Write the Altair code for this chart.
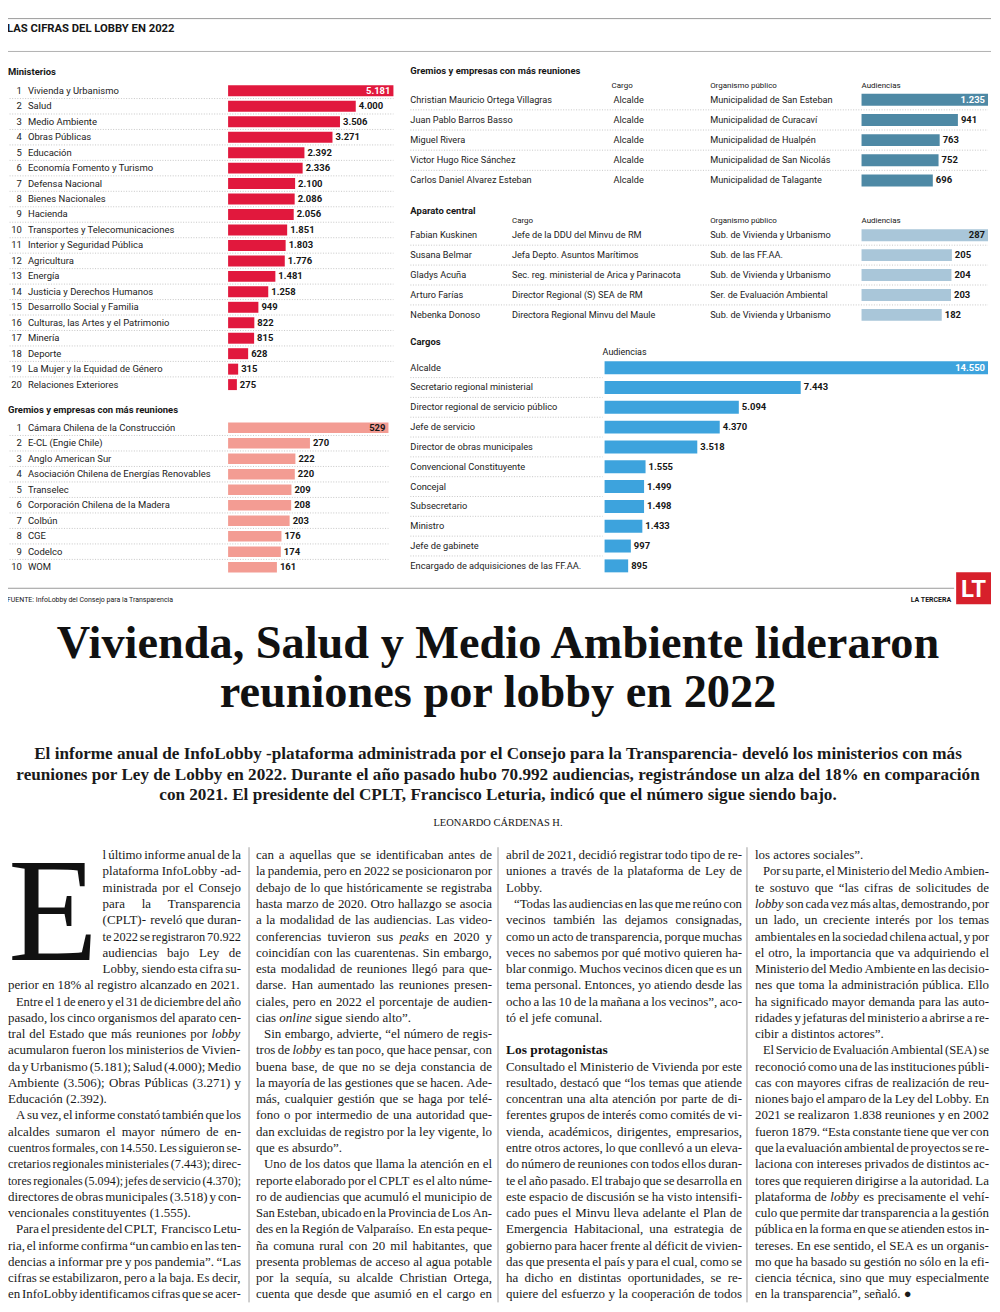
import altair as alt
import pandas as pd

# ====================== DATA ======================
ministerios = ["Vivienda y Urbanismo", "Salud", "Medio Ambiente", "Obras Públicas", "Educación",
               "Economía Fomento y Turismo", "Defensa Nacional", "Bienes Nacionales", "Hacienda",
               "Transportes y Telecomunicaciones", "Interior y Seguridad Pública", "Agricultura",
               "Energía", "Justicia y Derechos Humanos", "Desarrollo Social y Familia",
               "Culturas, las Artes y el Patrimonio", "Minería", "Deporte",
               "La Mujer y la Equidad de Género", "Relaciones Exteriores"]
ministerios_aud = [5181, 4000, 3506, 3271, 2392, 2336, 2100, 2086, 2056, 1851,
                   1803, 1776, 1481, 1258, 949, 822, 815, 628, 315, 275]

gremios = ["Cámara Chilena de la Construcción", "E-CL (Engie Chile)", "Anglo American Sur",
           "Asociación Chilena de Energías Renovables", "Transelec",
           "Corporación Chilena de la Madera", "Colbún", "CGE", "Codelco", "WOM"]
gremios_aud = [529, 270, 222, 220, 209, 208, 203, 176, 174, 161]

gestores = ["Christian Mauricio Ortega Villagras", "Juan Pablo Barros Basso", "Miguel Rivera",
            "Victor Hugo Rice Sánchez", "Carlos Daniel Alvarez Esteban"]
gestores_cargo = ["Alcalde", "Alcalde", "Alcalde", "Alcalde", "Alcalde"]
gestores_org = ["Municipalidad de San Esteban", "Municipalidad de Curacaví",
                "Municipalidad de Hualpén", "Municipalidad de San Nicolás",
                "Municipalidad de Talagante"]
gestores_aud = [1235, 941, 763, 752, 696]

central = ["Fabian Kuskinen", "Susana Belmar", "Gladys Acuña", "Arturo Farías", "Nebenka Donoso"]
central_cargo = ["Jefe de la DDU del Minvu de RM", "Jefa Depto. Asuntos Marítimos",
                 "Sec. reg. ministerial de Arica y Parinacota", "Director Regional (S) SEA de RM",
                 "Directora Regional Minvu del Maule"]
central_org = ["Sub. de Vivienda y Urbanismo", "Sub. de las FF.AA.", "Sub. de Vivienda y Urbanismo",
               "Ser. de Evaluación Ambiental", "Sub. de Vivienda y Urbanismo"]
central_aud = [287, 205, 204, 203, 182]

cargos = ["Alcalde", "Secretario regional ministerial", "Director regional de servicio público",
          "Jefe de servicio", "Director de obras municipales", "Convencional Constituyente",
          "Concejal", "Subsecretario", "Ministro", "Jefe de gabinete",
          "Encargado de adquisiciones de las FF.AA."]
cargos_aud = [14550, 7443, 5094, 4370, 3518, 1555, 1499, 1498, 1433, 997, 895]

titulo = "LAS CIFRAS DEL LOBBY EN 2022"
secciones = ["Ministerios", "Gremios y empresas con más reuniones", "Aparato central", "Cargos"]
encabezados = ["Cargo", "Organismo público", "Audiencias"]
fuente = "FUENTE: InfoLobby del Consejo para la Transparencia"
medio = "LA TERCERA"
logo = "LT"

titular = ["Vivienda, Salud y Medio Ambiente lideraron", "reuniones por lobby en 2022"]
bajada = ["El informe anual de InfoLobby -plataforma administrada por el Consejo para la Transparencia- develó los ministerios con más",
          "reuniones por Ley de Lobby en 2022. Durante el año pasado hubo 70.992 audiencias, registrándose un alza del 18% en comparación",
          "con 2021. El presidente del CPLT, Francisco Leturia, indicó que el número sigue siendo bajo."]
firma = "LEONARDO CÁRDENAS H."
capitular = "E"
subtitulo = "Los protagonistas"

# ">" = paragraph start (indent), "|" = paragraph end, _x_ = italic
columna1 = [
    "l último informe anual de la",
    "plataforma InfoLobby -ad-",
    "ministrada por el Consejo",
    "para la Transparencia",
    "(CPLT)- reveló que duran-",
    "te 2022 se registraron 70.922",
    "audiencias bajo Ley de",
    "Lobby, siendo esta cifra su-",
    "perior en 18% al registro alcanzado en 2021.|",
    ">Entre el 1 de enero y el 31 de diciembre del año",
    "pasado, los cinco organismos del aparato cen-",
    "tral del Estado que más reuniones por _lobby_",
    "acumularon fueron los ministerios de Vivien-",
    "da y Urbanismo (5.181); Salud (4.000); Medio",
    "Ambiente (3.506); Obras Públicas (3.271) y",
    "Educación (2.392).|",
    ">A su vez, el informe constató también que los",
    "alcaldes sumaron el mayor número de en-",
    "cuentros formales, con 14.550. Les siguieron se-",
    "cretarios regionales ministeriales (7.443); direc-",
    "tores regionales (5.094); jefes de servicio (4.370);",
    "directores de obras municipales (3.518) y con-",
    "vencionales constituyentes (1.555).|",
    ">Para el presidente del CPLT, Francisco Letu-",
    "ria, el informe confirma “un cambio en las ten-",
    "dencias a informar pre y pos pandemia”. “Las",
    "cifras se estabilizaron, pero a la baja. Es decir,",
    "en InfoLobby identificamos cifras que se acer-",
]
columna2 = [
    "can a aquellas que se identificaban antes de",
    "la pandemia, pero en 2022 se posicionaron por",
    "debajo de lo que históricamente se registraba",
    "hasta marzo de 2020. Otro hallazgo se asocia",
    "a la modalidad de las audiencias. Las video-",
    "conferencias tuvieron sus _peaks_ en 2020 y",
    "coincidían con las cuarentenas. Sin embargo,",
    "esta modalidad de reuniones llegó para que-",
    "darse. Han aumentado las reuniones presen-",
    "ciales, pero en 2022 el porcentaje de audien-",
    "cias _online_ sigue siendo alto”.|",
    ">Sin embargo, advierte, “el número de regis-",
    "tros de _lobby_ es tan poco, que hace pensar, con",
    "buena base, de que no se deja constancia de",
    "la mayoría de las gestiones que se hacen. Ade-",
    "más, cualquier gestión que se haga por telé-",
    "fono o por intermedio de una autoridad que-",
    "dan excluidas de registro por la ley vigente, lo",
    "que es absurdo”.|",
    ">Uno de los datos que llama la atención en el",
    "reporte elaborado por el CPLT es el alto núme-",
    "ro de audiencias que acumuló el municipio de",
    "San Esteban, ubicado en la Provincia de Los An-",
    "des en la Región de Valparaíso. En esta peque-",
    "ña comuna rural con 20 mil habitantes, que",
    "presenta problemas de acceso al agua potable",
    "por la sequía, su alcalde Christian Ortega,",
    "cuenta que desde que asumió en el cargo en",
]
columna3 = [
    "abril de 2021, decidió registrar todo tipo de re-",
    "uniones a través de la plataforma de Ley de",
    "Lobby.|",
    ">“Todas las audiencias en las que me reúno con",
    "vecinos también las dejamos consignadas,",
    "como un acto de transparencia, porque muchas",
    "veces no sabemos por qué motivo quieren ha-",
    "blar conmigo. Muchos vecinos dicen que es un",
    "tema personal. Entonces, yo atiendo desde las",
    "ocho a las 10 de la mañana a los vecinos”, aco-",
    "tó el jefe comunal.|",
    "",
    "",
    "Consultado el Ministerio de Vivienda por este",
    "resultado, destacó que “los temas que atiende",
    "concentran una alta atención por parte de di-",
    "ferentes grupos de interés como comités de vi-",
    "vienda, académicos, dirigentes, empresarios,",
    "entre otros actores, lo que conllevó a un eleva-",
    "do número de reuniones con todos ellos duran-",
    "te el año pasado. El trabajo que se desarrolla en",
    "este espacio de discusión se ha visto intensifi-",
    "cado pues el Minvu lleva adelante el Plan de",
    "Emergencia Habitacional, una estrategia de",
    "gobierno para hacer frente al déficit de vivien-",
    "das que presenta el país y para el cual, como se",
    "ha dicho en distintas oportunidades, se re-",
    "quiere del esfuerzo y la cooperación de todos",
]
columna4 = [
    "los actores sociales”.|",
    ">Por su parte, el Ministerio del Medio Ambien-",
    "te sostuvo que “las cifras de solicitudes de",
    "_lobby_ son cada vez más altas, demostrando, por",
    "un lado, un creciente interés por los temas",
    "ambientales en la sociedad chilena actual, y por",
    "el otro, la importancia que va adquiriendo el",
    "Ministerio del Medio Ambiente en las decisio-",
    "nes que toma la administración pública. Ello",
    "ha significado mayor demanda para las auto-",
    "ridades y jefaturas del ministerio a abrirse a re-",
    "cibir a distintos actores”.|",
    ">El Servicio de Evaluación Ambiental (SEA) se",
    "reconoció como una de las instituciones públi-",
    "cas con mayores cifras de realización de reu-",
    "niones bajo el amparo de la Ley del Lobby. En",
    "2021 se realizaron 1.838 reuniones y en 2002",
    "fueron 1879. “Esta constante tiene que ver con",
    "que la evaluación ambiental de proyectos se re-",
    "laciona con intereses privados de distintos ac-",
    "tores que requieren dirigirse a la autoridad. La",
    "plataforma de _lobby_ es precisamente el vehí-",
    "culo que permite dar transparencia a la gestión",
    "pública en la forma en que se atienden estos in-",
    "tereses. En ese sentido, el SEA es un organis-",
    "mo que ha basado su gestión no sólo en la efi-",
    "ciencia técnica, sino que muy especialmente",
    "en la transparencia”, señaló. ●|",
]

# ====================== STYLE ======================
SANS = "Roboto, 'Liberation Sans', Arial, sans-serif"
SERIF = "'Liberation Serif', 'Times New Roman', Times, serif"
INK = "#161616"
GREY = "#8a8a8a"
C_MIN = "#E1183D"
C_GRE = "#F39C93"
C_GES = "#4E89A5"
C_CEN = "#A9C6D9"
C_CAR = "#3DA3DD"
C_LOGO = "#D7202B"


def px(x):
    return x - 8


def py(y):
    return y - 8


def fmt(v):
    return f"{v:,}".replace(",", ".")


def widths(groups):
    d = {}
    for chars, w in groups:
        for c in chars:
            d[c] = w
    return d


# Times-compatible metrics (Liberation Serif)
TR = widths([(" .,", 250), (";:", 278), ("-()", 333), ("“”\"", 444), ("%", 833), ("0123456789", 500),
             ("aceáézç", 444), ("bdghknopquvxyñóú", 500), ("ijltí", 278), ("fr", 333), ("m", 778),
             ("s", 389), ("w", 722), ("ADGHKNOQUVXYÁÓÚ", 722), ("BCR", 667), ("ELTZÉ", 611),
             ("FPS", 556), ("IÍ", 333), ("J", 389), ("M", 889), ("W", 944), ("●", 620)])
TB = widths([(" .,", 250), (";:", 333), ("-()", 333), ("“”\"", 500), ("%", 1000), ("0123456789", 500),
             ("agovxyó", 500), ("bdhknpquñú", 556), ("ceráéz", 444), ("ilí", 278), ("fjt", 333),
             ("m", 833), ("s", 389), ("w", 722), ("ACDNRUVXYÁÚ", 722), ("BELTZÉ", 667),
             ("GHKOQÓ", 778), ("FP", 611), ("IÍ", 389), ("J", 500), ("M", 944), ("S", 556), ("W", 1000)])


def tw(s, table):
    return sum(table.get(c, 500) for c in s) / 1000.0


layers = []


def label(text, x, y, size, weight="normal", font=SANS, align="left", baseline="middle", color=INK):
    return alt.Chart(pd.DataFrame({"t": [text]})).mark_text(
        align=align, baseline=baseline, font=font, fontSize=size, fontWeight=weight, color=color
    ).encode(x=alt.value(px(x)), y=alt.value(py(y)), text="t:N")


def hrule(x0, x1, y, color=GREY, width=1.0):
    return alt.Chart(pd.DataFrame({"a": [0]})).mark_rule(color=color, strokeWidth=width).encode(
        x=alt.value(px(x0)), x2=alt.value(px(x1)), y=alt.value(py(y)))


def vrule(x, y0, y1, color="#a0a0a0", width=1.0):
    return alt.Chart(pd.DataFrame({"a": [0]})).mark_rule(color=color, strokeWidth=width).encode(
        x=alt.value(px(x)), y=alt.value(py(y0)), y2=alt.value(py(y1)))


def bar_block(values, fields, c_first, c_last, x_zero, x_max, color, bar_h, inside_color,
              cols, sep, lab_size=9.5, val_size=9.5):
    n = len(values)
    step = (c_last - c_first) / (n - 1)
    pin = 1 - bar_h / step
    df = pd.DataFrame({"k": list(range(n)), "rank": [str(i + 1) for i in range(n)],
                       "v": values, "lbl": [fmt(v) for v in values]})
    for f, arr in fields.items():
        df[f] = arr
    ys = alt.Scale(domain=list(range(n)), range=[py(c_first - step / 2), py(c_last + step / 2)],
                   paddingInner=pin, paddingOuter=pin / 2)
    xs = alt.Scale(domain=[0, max(values)], range=[px(x_zero), px(x_max)], nice=False, zero=True)
    Yk = alt.Y("k:O", scale=ys, axis=None)
    Xv = alt.X("v:Q", scale=xs, axis=None)
    base = alt.Chart(df)
    out = []
    if sep:
        out.append(base.transform_filter(f"datum.k < {n - 1}").mark_rule(
            color="#b8b8b8", strokeWidth=0.8, strokeDash=[1, 1.6], yOffset=step / 2
        ).encode(x=alt.value(px(sep[0])), x2=alt.value(px(sep[1])), y=Yk))
    out.append(base.mark_bar(color=color).encode(x=Xv, y=Yk))
    out.append(base.transform_filter("datum.k > 0").mark_text(
        align="left", dx=3, baseline="middle", font=SANS, fontSize=val_size, fontWeight="bold", color=INK
    ).encode(x=Xv, y=Yk, text="lbl:N"))
    out.append(base.transform_filter("datum.k == 0").mark_text(
        align="right", dx=-3, baseline="middle", font=SANS, fontSize=val_size, fontWeight="bold",
        color=inside_color
    ).encode(x=Xv, y=Yk, text="lbl:N"))
    for field, x, align in cols:
        out.append(base.mark_text(align=align, baseline="middle", font=SANS, fontSize=lab_size,
                                  color="#222222").encode(x=alt.value(px(x)), y=Yk, text=f"{field}:N"))
    return out


# ---------------- top header ----------------
layers.append(hrule(7, 995, 16, color="#9a9a9a"))
layers.append(label(titulo, 7, 26.5, 11.3, "bold"))
layers.append(hrule(7, 995, 49, color="#b0b0b0"))

# ---------------- Ministerios ----------------
layers.append(label(secciones[0], 8, 70, 9.5, "bold"))
layers += bar_block(ministerios_aud, {"name": ministerios}, 88.5, 383.5, 229, 395, C_MIN, 11, "white",
                    [("rank", 22, "right"), ("name", 28, "left")], (7, 395))

# ---------------- Gremios (left) ----------------
layers.append(label(secciones[1], 8, 409, 9.5, "bold"))
layers += bar_block(gremios_aud, {"name": gremios}, 426.8, 566.8, 229, 390, C_GRE, 10.5, INK,
                    [("rank", 22, "right"), ("name", 28, "left")], (7, 390))

# ---------------- Gremios (right, people) ----------------
layers.append(label(secciones[1], 412, 69, 9.5, "bold"))
layers.append(label(encabezados[0], 614, 84, 8))
layers.append(label(encabezados[1], 713, 84, 8))
layers.append(label(encabezados[2], 865, 84, 8))
layers += bar_block(gestores_aud, {"name": gestores, "cargo": gestores_cargo, "org": gestores_org},
                    97.5, 178.5, 865, 992, C_GES, 12, "white",
                    [("name", 412, "left"), ("cargo", 616, "left"), ("org", 713, "left")], (412, 992),
                    lab_size=9.2)

# ---------------- Aparato central ----------------
layers.append(label(secciones[2], 412, 209, 9.5, "bold"))
layers.append(label(encabezados[0], 514, 219, 8))
layers.append(label(encabezados[1], 713, 219, 8))
layers.append(label(encabezados[2], 865, 219, 8))
layers += bar_block(central_aud, {"name": central, "cargo": central_cargo, "org": central_org},
                    233.5, 313.5, 865, 992, C_CEN, 12, INK,
                    [("name", 412, "left"), ("cargo", 514, "left"), ("org", 713, "left")], (412, 992),
                    lab_size=9.2)

# ---------------- Cargos ----------------
layers.append(label(secciones[3], 412, 341, 9.5, "bold"))
layers.append(label(encabezados[2], 605, 350.5, 9))
layers += bar_block(cargos_aud, {"name": cargos}, 366.5, 565.5, 607, 992, C_CAR, 13, "white",
                    [("name", 412, "left")], (412, 605), lab_size=9.3)

# ---------------- footer of graphic ----------------
layers.append(hrule(7, 958, 588, color="#9a9a9a"))
layers.append(label(fuente, 7, 600, 7))
layers.append(label(medio, 955, 600, 7, "bold", align="right"))
layers.append(alt.Chart(pd.DataFrame({"a": [0]})).mark_rect(color=C_LOGO).encode(
    x=alt.value(px(960)), x2=alt.value(px(995)), y=alt.value(py(572)), y2=alt.value(py(604))))
layers.append(label(logo, 977.5, 590, 24, "bold", align="center", color="white"))

# ---------------- headline ----------------
fs_head = 46.5
layers.append(label(titular[0], 500, 658, fs_head, "bold", SERIF, "center", "alphabetic", "#111111"))
layers.append(label(titular[1], 500, 707, fs_head, "bold", SERIF, "center", "alphabetic", "#111111"))

fs_sub = 968.0 / tw(bajada[1], TB)
for i, ln in enumerate(bajada):
    layers.append(label(ln, 500, 754 + 21 * i, fs_sub, "bold", SERIF, "center", "middle", "#1a1a1a"))
layers.append(label(firma, 500, 824, 10.5, "normal", SERIF, "center", "middle"))

# ---------------- body text (justified) ----------------
FS = 13.0


def justify(lines, col, left, width, narrow_until=0, narrow_left=None, indent=8.0):
    rows = []
    right = left + width
    for i, raw in enumerate(lines):
        if not raw.strip():
            continue
        ind = raw.startswith(">")
        end = raw.endswith("|")
        s = raw.strip(">|")
        l = narrow_left if i < narrow_until else left
        if ind:
            l += indent
        w = right - l
        toks = s.split(" ")
        its = [t.startswith("_") and t.endswith("_") for t in toks]
        toks = [t.strip("_") for t in toks]
        ems = [tw(t, TR) for t in toks]
        nat = sum(ems)
        g = len(toks) - 1
        fs = FS
        if end or g == 0:
            gap = 0.25 * fs
            if nat * fs + g * gap > w:
                fs = w / (nat + 0.25 * g)
                gap = 0.25 * fs
        else:
            gap = (w - nat * fs) / g
            if gap < 1.8:
                gap = 1.8
                fs = (w - g * gap) / nat
        x = l
        for t, e, it in zip(toks, ems, its):
            rows.append({"w": t, "x": px(x), "line": i, "fs": round(fs, 2), "it": bool(it), "col": col})
            x += e * fs + gap
    return rows


rows = []
rows += justify(columna1, 1, 8, 234, narrow_until=8, narrow_left=103)
rows += justify(columna2, 2, 257, 237)
rows += justify(columna3, 3, 508, 237)
rows += justify(columna4, 4, 758, 235)
words = pd.DataFrame(rows)

ys_body = alt.Scale(domain=[0, 27], range=[py(856), py(1297)])
for italic in (False, True):
    layers.append(alt.Chart(words).transform_filter(
        "datum.it" if italic else "!datum.it"
    ).mark_text(align="left", baseline="middle", font=SERIF, color="#1a1a1a",
                fontStyle="italic" if italic else "normal").encode(
        x=alt.X("x:Q", scale=None, axis=None),
        y=alt.Y("line:Q", scale=ys_body, axis=None),
        size=alt.Size("fs:Q", scale=None, legend=None),
        text="w:N"))

layers.append(alt.Chart(pd.DataFrame({"t": [subtitulo], "line": [12]})).mark_text(
    align="left", baseline="middle", font=SERIF, fontSize=13.5, fontWeight="bold", color="#111111"
).encode(x=alt.value(px(508)), y=alt.Y("line:Q", scale=ys_body, axis=None), text="t:N"))

layers.append(label(capitular, 8, 961, 148, "normal", SERIF, "left", "alphabetic", "#111111"))

for xv in (250, 500, 750):
    layers.append(vrule(xv, 848, 1305))

chart = alt.layer(*layers).properties(
    width=988, height=1298, padding=0, autosize=alt.AutoSizeParams(type="none")
).resolve_scale(x="independent", y="independent", size="independent").configure_view(stroke=None)

chart.save("out.html", embed_options={"renderer": "svg", "actions": False})
